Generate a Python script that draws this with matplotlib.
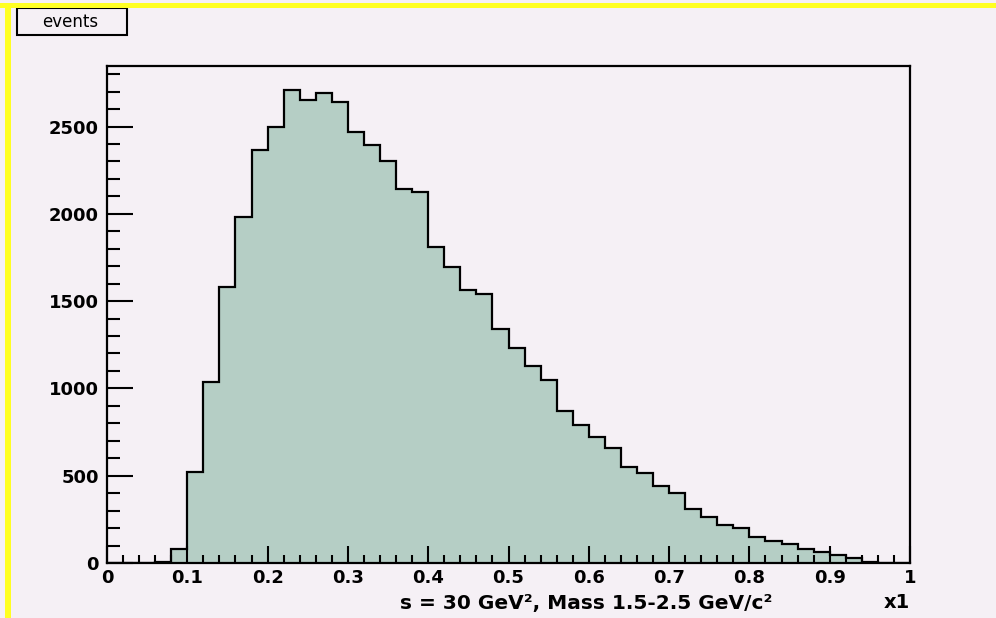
import numpy as np
import matplotlib
matplotlib.use('Agg')
import matplotlib.pyplot as plt
from matplotlib.patches import Rectangle
from matplotlib.ticker import MultipleLocator

plt.rcParams['font.family'] = ['DejaVu Sans']

# histogram: 50 bins in x1 from 0 to 1
bin_edges = np.linspace(0.0, 1.0, 51)
counts = [0, 0, 0, 5, 80, 519, 1039, 1581, 1981, 2363,
          2500, 2711, 2654, 2694, 2643, 2471, 2392, 2300, 2140, 2123,
          1809, 1695, 1564, 1541, 1341, 1233, 1130, 1050, 868, 793,
          719, 656, 548, 514, 440, 400, 308, 263, 217, 200,
          148, 126, 108, 80, 63, 46, 29, 3, 1, 0]
y_ticks = [0, 500, 1000, 1500, 2000, 2500]
x_ticks = [0, 0.1, 0.2, 0.3, 0.4, 0.5, 0.6, 0.7, 0.8, 0.9, 1]
x_ticklabels = ['0', '0.1', '0.2', '0.3', '0.4', '0.5', '0.6', '0.7', '0.8', '0.9', '1']
title_text = 's = 30 GeV², Mass 1.5-2.5 GeV/c²'
axis_name = 'x1'
hist_name = 'events'

bg = '#f5f0f5'
fill = '#b5cec5'
W, H = 996, 618

fig = plt.figure(figsize=(W / 100, H / 100), dpi=100, facecolor=bg)
# axes frame in pixels: left 107, right 910, top 66, bottom 563
ax = fig.add_axes([107 / W, (H - 563) / H, (910 - 107) / W, (563 - 66) / H])
ax.set_facecolor(bg)

ax.stairs(counts, bin_edges, fill=True, color=fill, linewidth=0)
ax.stairs(counts, bin_edges, color='black', linewidth=1.6, baseline=0)

ax.set_xlim(0, 1)
ax.set_ylim(0, max(counts) * 1.05)

ax.set_xticks(x_ticks)
ax.set_xticklabels(x_ticklabels)
ax.set_yticks(y_ticks)
ax.xaxis.set_minor_locator(MultipleLocator(0.02))
ax.yaxis.set_minor_locator(MultipleLocator(100))

ax.tick_params(axis='x', which='major', direction='in', length=12, width=1.5,
               labelsize=13, pad=4)
ax.tick_params(axis='x', which='minor', direction='in', length=6, width=1.5)
ax.tick_params(axis='y', which='major', direction='in', length=19, width=1.5,
               labelsize=13, pad=6)
ax.tick_params(axis='y', which='minor', direction='in', length=9, width=1.5)
for lab in ax.get_xticklabels() + ax.get_yticklabels():
    lab.set_fontweight('bold')

for s in ax.spines.values():
    s.set_linewidth(1.6)

# texts under the axis
fig.text(400 / W, 1 - 603 / H, title_text, fontsize=14.5, fontweight='bold',
         ha='left', va='center')
fig.text(910 / W, 1 - 603 / H, axis_name, fontsize=14, fontweight='bold',
         ha='right', va='center')

# title box at top-left
box = Rectangle((17 / W, 1 - 35 / H), 110 / W, 27 / H, transform=fig.transFigure,
                facecolor=bg, edgecolor='black', linewidth=1.5)
fig.patches.append(box)
fig.text(70 / W, 1 - 22 / H, hist_name, fontsize=12, ha='center', va='center')

# yellow canvas border (top and left)
fig.patches.append(Rectangle((0, 1 - 8 / H), 1, 5 / H, transform=fig.transFigure,
                             facecolor='#ffff22', edgecolor='none'))
fig.patches.append(Rectangle((5 / W, 0), 6 / W, 1 - 3 / H, transform=fig.transFigure,
                             facecolor='#ffff22', edgecolor='none'))

fig.savefig('out.png', dpi=100, facecolor=bg)
